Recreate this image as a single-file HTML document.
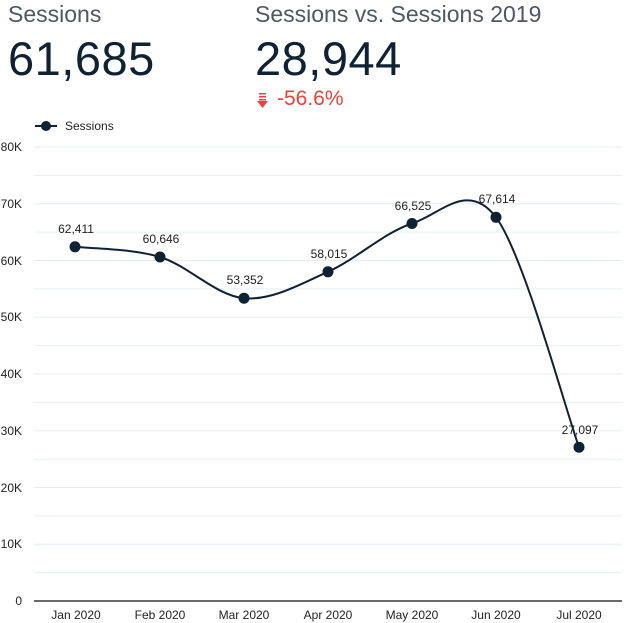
<!DOCTYPE html>
<html><head><meta charset="utf-8"><style>
body{margin:0;width:627px;height:623px;background:#fff;font-family:"Liberation Sans",sans-serif;overflow:hidden;position:relative}
.t{position:absolute;color:#4b5866;font-size:23px;white-space:nowrap}
.n{position:absolute;color:#0e2233;font-size:47px;white-space:nowrap;letter-spacing:0.5px}
</style></head><body>
<div class="t" style="left:8px;top:1px">Sessions</div>
<div class="n" style="left:8px;top:31px">61,685</div>
<div class="t" style="left:255px;top:1px">Sessions vs. Sessions 2019</div>
<div class="n" style="left:255px;top:31px">28,944</div>
<div style="position:absolute;left:277px;top:87px;color:#ef4136;font-size:21px">-56.6%</div>
<svg width="627" height="623" style="position:absolute;left:0;top:0" font-family="Liberation Sans, sans-serif">
<g fill="#ef4136"><rect x="259" y="93" width="7" height="1.5"/><rect x="259" y="96" width="7" height="1.5"/><rect x="259" y="99" width="7" height="1.5"/><polygon points="257,101 268,101 262.5,108"/></g>
<line x1="35" y1="126" x2="57" y2="126" stroke="#0e2233" stroke-width="2"/><circle cx="46" cy="126" r="5" fill="#0e2233"/>
<text x="65" y="130" font-size="12" fill="#222">Sessions</text>
<g stroke="#e3f0f3" stroke-width="1">
<line x1="34" x2="622" y1="147" y2="147"/><line x1="34" x2="622" y1="175.4" y2="175.4"/>
<line x1="34" x2="622" y1="203.8" y2="203.8"/><line x1="34" x2="622" y1="232.1" y2="232.1"/>
<line x1="34" x2="622" y1="260.5" y2="260.5"/><line x1="34" x2="622" y1="288.9" y2="288.9"/>
<line x1="34" x2="622" y1="317.3" y2="317.3"/><line x1="34" x2="622" y1="345.6" y2="345.6"/>
<line x1="34" x2="622" y1="374" y2="374"/><line x1="34" x2="622" y1="402.4" y2="402.4"/>
<line x1="34" x2="622" y1="430.8" y2="430.8"/><line x1="34" x2="622" y1="459.1" y2="459.1"/>
<line x1="34" x2="622" y1="487.5" y2="487.5"/><line x1="34" x2="622" y1="515.9" y2="515.9"/>
<line x1="34" x2="622" y1="544.3" y2="544.3"/><line x1="34" x2="622" y1="572.6" y2="572.6"/>
</g>
<line x1="34" x2="622" y1="601" y2="601" stroke="#111" stroke-width="1.2"/>
<g font-size="12" fill="#222" text-anchor="end">
<text x="22" y="151">80K</text><text x="22" y="208">70K</text><text x="22" y="265">60K</text>
<text x="22" y="321">50K</text><text x="22" y="378">40K</text><text x="22" y="435">30K</text>
<text x="22" y="492">20K</text><text x="22" y="548">10K</text><text x="22" y="605">0</text>
</g>
<g font-size="12" fill="#222" text-anchor="middle">
<text x="76" y="619">Jan 2020</text><text x="160" y="619">Feb 2020</text><text x="244" y="619">Mar 2020</text>
<text x="328" y="619">Apr 2020</text><text x="412" y="619">May 2020</text><text x="496" y="619">Jun 2020</text>
<text x="579" y="619">Jul 2020</text>
</g>
<path d="M75,246.8 C89.2,248.5 131.8,248.4 160,257 C188.2,265.6 216,295.7 244,298.2 C272,300.7 300,284.2 328,271.8 C356,259.3 384,232.6 412,223.5 C440,214.4 468.2,180 496,217.3 C523.8,254.6 565.2,408.9 579,447.2" fill="none" stroke="#0e2233" stroke-width="2"/>
<g fill="#0e2233">
<circle cx="75" cy="246.8" r="5.5"/><circle cx="160" cy="257" r="5.5"/><circle cx="244" cy="298.2" r="5.5"/>
<circle cx="328" cy="271.8" r="5.5"/><circle cx="412" cy="223.5" r="5.5"/><circle cx="496" cy="217.3" r="5.5"/>
<circle cx="579" cy="447.2" r="5.5"/>
</g>
<g font-size="12" fill="#222" text-anchor="middle">
<text x="76" y="233">62,411</text><text x="161" y="243">60,646</text><text x="245" y="284">53,352</text>
<text x="329" y="258">58,015</text><text x="413" y="210">66,525</text><text x="497" y="203">67,614</text>
<text x="580" y="434">27,097</text>
</g>
</svg>
</body></html>
